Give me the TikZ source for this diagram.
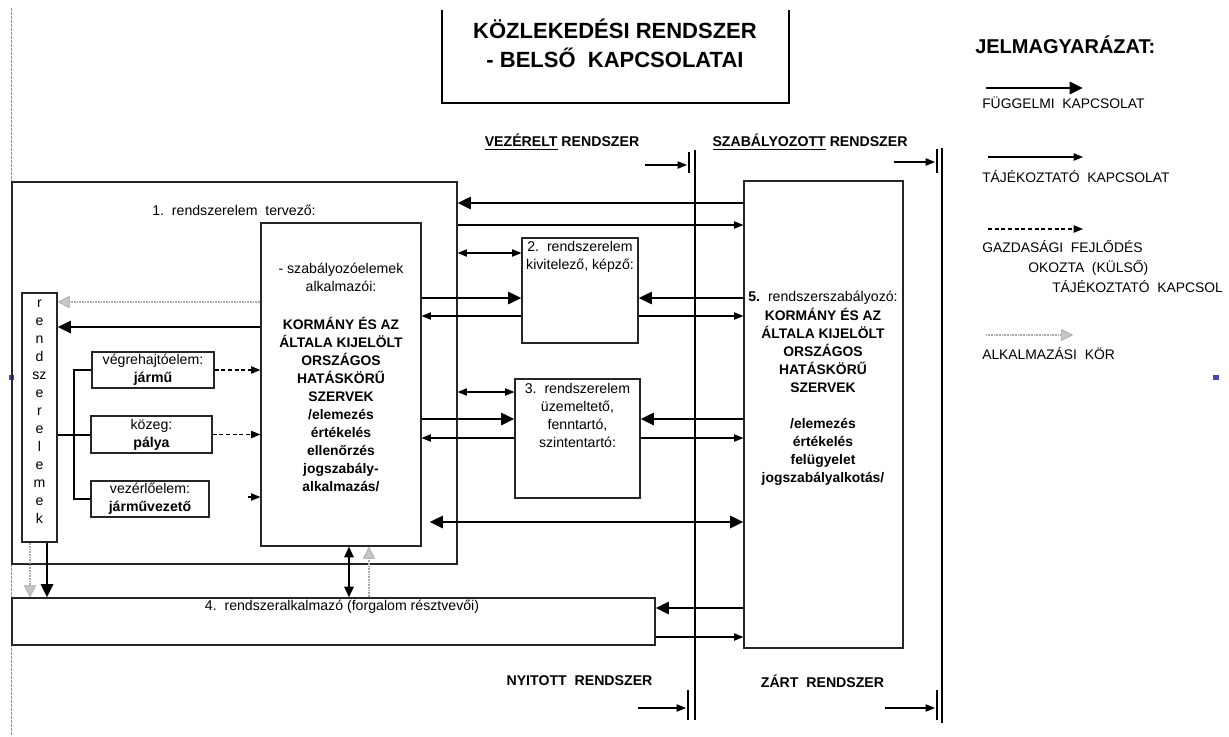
\documentclass[tikz,border=0pt]{standalone}
\usepackage{fontspec}
\setmainfont{Liberation Sans}
\usetikzlibrary{arrows.meta,positioning}

\begin{document}
\begin{tikzpicture}[
    x=0.75pt, y=-0.75pt,
    doboz/.style={draw=black!85, line width=0.9pt, inner sep=0pt},
    szoveg/.style={inner sep=0pt, align=center, font=\fontsize{10.6}{13.5}\selectfont},
    vastag/.style={inner sep=0pt, align=center, font=\fontsize{10.4}{13.5}\selectfont\bfseries},
    rendszer/.style={inner sep=0pt, font=\fontsize{10.6}{13}\selectfont\bfseries},
    jelmagy/.style={inner sep=0pt, anchor=west, font=\fontsize{10.4}{14}\selectfont},
    fuggelmi/.style={line width=2.2pt, -{Triangle[length=10pt, width=9pt]}},
    ketfuggelmi/.style={line width=2.2pt, {Triangle[length=10pt, width=9pt]}-{Triangle[length=10pt, width=9pt]}},
    tajekoztato/.style={line width=0.8pt, -{Triangle[length=7pt, width=5.5pt]}},
    kettajek/.style={line width=0.8pt, {Triangle[length=7pt, width=5.5pt]}-{Triangle[length=7pt, width=5.5pt]}},
    ketkozepes/.style={line width=1.2pt, {Triangle[length=8pt, width=7pt]}-{Triangle[length=8pt, width=7pt]}},
    kulso/.style={tajekoztato, dash pattern=on 3pt off 2pt},
    alkkor/.style={draw=gray!70, line width=1.3pt, dash pattern=on 0.7pt off 0.5pt,
        -{Triangle[open, fill=gray!45, line width=0.5pt, length=9pt, width=9pt]}},
    hatar/.style={line width=0.8pt}
]
\useasboundingbox (0,0) rectangle (1229,736);

% --- page marks ---
\draw[blue!30!gray!70, line width=0.5pt, dash pattern=on 2pt off 1pt] (11,8) -- (11,736);
\fill[blue!45!gray] (9,375) rectangle (14,380);
\fill[blue!45!gray] (1213,375) rectangle (1219,380);

% --- title ---
\node[inner sep=0pt, align=center, font=\fontsize{16.5}{21.75}\selectfont\bfseries] (cim) at (615,43.5)
    {KÖZLEKEDÉSI RENDSZER\\- BELSŐ~~KAPCSOLATAI};
\coordinate (keret_bf) at (442,10);
\coordinate (keret_ja) at (789,103);
\draw[line width=1.1pt] (keret_bf) |- (keret_ja) -- (keret_ja |- keret_bf);

% --- boxes ---
\node[doboz, minimum width=333.75pt, minimum height=286.5pt] (tervezo) at (234.5,373) {};
\node[doboz, minimum width=120pt, minimum height=242.25pt] (szab) at (341,384.5) {};
\node[doboz, minimum width=87pt, minimum height=78.75pt] (kivit) at (580,290.5) {};
\node[doboz, minimum width=93.75pt, minimum height=89.25pt] (uzem) at (577.5,438.5) {};
\node[doboz, minimum width=119.25pt, minimum height=350.25pt] (szab5) at (823.5,414.5) {};
\node[doboz, minimum width=482.25pt, minimum height=35.25pt] (alkalmazo) at (333.5,621.5) {};
\node[doboz, minimum width=26.25pt, minimum height=186.75pt] (elemek) at (39.5,417.5) {};
\node[doboz, minimum width=91.5pt, minimum height=27pt] (jarmu) at (153,370) {};
\node[doboz, minimum width=90.75pt, minimum height=27.75pt] (palya) at (151.5,434.5) {};
\node[doboz, minimum width=88.5pt, minimum height=27pt] (vezeto) at (150,499) {};

% --- texts ---
\node[szoveg] (tervezo_cim) at (234,210) {1.~~rendszerelem~~tervező:};
\node[szoveg] (szab_cim) at (341,277.5) {- szabályozóelemek\\alkalmazói:};
\node[vastag] (szab_szoveg) at (341,404)
    {KORMÁNY ÉS AZ\\ÁLTALA KIJELÖLT\\ORSZÁGOS\\HATÁSKÖRŰ\\SZERVEK\\/elemezés\\értékelés\\ellenőrzés\\jogszabály-\\alkalmazás/};
\node[szoveg] (kivit_szoveg) at (580,257) {2.~~rendszerelem\\kivitelező, képző:};
\node[szoveg] (uzem_szoveg) at (577.5,415.5) {3.~~rendszerelem\\üzemeltető,\\fenntartó,\\szintentartó:};
\node[szoveg] (szab5_cim) at (823,298) {\textbf{5.}~~rendszerszabályozó:};
\node[vastag] (szab5_szoveg) at (823,397)
    {KORMÁNY ÉS AZ\\ÁLTALA KIJELÖLT\\ORSZÁGOS\\HATÁSKÖRŰ\\SZERVEK\\[13.5pt]/elemezés\\értékelés\\felügyelet\\jogszabályalkotás/};
\node[szoveg] (alkalmazo_szoveg) at (342,607) {4.~~rendszeralkalmazó (forgalom résztvevői)};
\node[szoveg] (elemek_szoveg) at (39.5,412) {r\\e\\n\\d\\sz\\e\\r\\e\\l\\e\\m\\e\\k};
\node[szoveg] (jarmu_szoveg) at (jarmu) {végrehajtóelem:\\\textbf{jármű}};
\node[szoveg] (palya_szoveg) at (palya) {közeg:\\\textbf{pálya}};
\node[szoveg] (vezeto_szoveg) at (vezeto) {vezérlőelem:\\\textbf{járművezető}};

% --- system labels ---
\node[rendszer] (vezerelt) at (562,142) {\underline{VEZÉRELT} RENDSZER};
\node[rendszer] (szabalyozott) at (810,142) {\underline{SZABÁLYOZOTT} RENDSZER};
\node[rendszer] (nyitott) at (579.5,681) {NYITOTT~~RENDSZER};
\node[rendszer] (zart) at (822.5,681) {ZÁRT~~RENDSZER};

% --- system borders ---
\draw[hatar] (695,150) -- (695,720);
\draw[hatar] (942,148) -- (942,723);
\draw[hatar] (689,152) -- ++(0,21);
\draw[hatar] (937,149) -- ++(0,24);
\draw[hatar] (688,690) -- ++(0,30);
\draw[hatar] (937,690) -- ++(0,30);
\draw[tajekoztato] (645,165) -- (687,165);
\draw[tajekoztato] (894,162) -- (935,162);
\draw[tajekoztato] (638,708) -- (686,708);
\draw[tajekoztato] (885,708) -- (935,708);

% --- tree of system elements ---
\coordinate (torzs) at (74,435);
\draw[line width=0.8pt] (elemek.east |- torzs) -- (palya.west |- torzs);
\draw[line width=0.8pt] (jarmu.west) -| (torzs) |- (vezeto.west);

% --- external (dashed) links ---
\draw[kulso] (jarmu.east) -- (jarmu.east -| szab.west);
\draw[kulso] (palya.east) -- (palya.east -| szab.west);
\draw[kulso] (248,497) -- (szab.west |- 0,497);

% --- links of the planner ---
\draw[alkkor] (szab.west |- 0,302) -- (elemek.east |- 0,302);
\draw[fuggelmi] (szab.west |- 0,327) -- (elemek.east |- 0,327);
\draw[fuggelmi] (szab5.west |- 0,203) -- (tervezo.east |- 0,203);
\draw[tajekoztato] (tervezo.east |- 0,225) -- (szab5.west |- 0,225);

% box 2
\draw[kettajek] (tervezo.east |- 0,253) -- (kivit.west |- 0,253);
\draw[fuggelmi] (szab.east |- 0,298) -- (kivit.west |- 0,298);
\draw[tajekoztato] (kivit.west |- 0,316) -- (szab.east |- 0,316);
\draw[fuggelmi] (szab5.west |- 0,298) -- (kivit.east |- 0,298);
\draw[tajekoztato] (kivit.east |- 0,316) -- (szab5.west |- 0,316);

% box 3
\draw[kettajek] (tervezo.east |- 0,392) -- (uzem.west |- 0,392);
\draw[fuggelmi] (szab.east |- 0,419) -- (uzem.west |- 0,419);
\draw[tajekoztato] (uzem.west |- 0,438) -- (szab.east |- 0,438);
\draw[fuggelmi] (szab5.west |- 0,419) -- (uzem.east |- 0,419);
\draw[tajekoztato] (uzem.east |- 0,438) -- (szab5.west |- 0,438);

\draw[ketfuggelmi, shorten <=6pt] (szab.east |- 0,522) -- (szab5.west |- 0,522);

% --- links of the users ---
\draw[fuggelmi] (47,0 |- elemek.south) -- (47,0 |- alkalmazo.north);
\draw[alkkor] (30,0 |- elemek.south) -- (30,0 |- alkalmazo.north);
\draw[ketkozepes] (349,0 |- szab.south) -- (349,0 |- alkalmazo.north);
\draw[alkkor] (369,0 |- alkalmazo.north) -- (369,0 |- szab.south);
\draw[fuggelmi] (szab5.west |- 0,608) -- (alkalmazo.east |- 0,608);
\draw[tajekoztato] (alkalmazo.east |- 0,637) -- (szab5.west |- 0,637);

% --- legend ---
\node[inner sep=0pt, anchor=west, font=\fontsize{15}{18}\selectfont\bfseries] (jelmagyarazat) at (975,45) {JELMAGYARÁZAT:};
\draw[fuggelmi] (986,88) -- (1083,88);
\node[jelmagy] (jm_fuggelmi) at (982,103) {FÜGGELMI~~KAPCSOLAT};
\draw[tajekoztato] (988,157) -- (1083,157);
\node[jelmagy] (jm_tajekoztato) at (982,177) {TÁJÉKOZTATÓ~~KAPCSOLAT};
\draw[kulso] (988,229) -- (1083,229);
\node[jelmagy] (jm_kulso1) at (982,247) {GAZDASÁGI~~FEJLŐDÉS};
\node[jelmagy] (jm_kulso2) at (1028,268) {OKOZTA~~(KÜLSŐ)};
\node[jelmagy] (jm_kulso3) at (1052,287) {TÁJÉKOZTATÓ~~KAPCSOL};
\draw[alkkor] (986,335) -- (1073,335);
\node[jelmagy] (jm_alkkor) at (982,354) {ALKALMAZÁSI~~KÖR};

\end{tikzpicture}
\end{document}
